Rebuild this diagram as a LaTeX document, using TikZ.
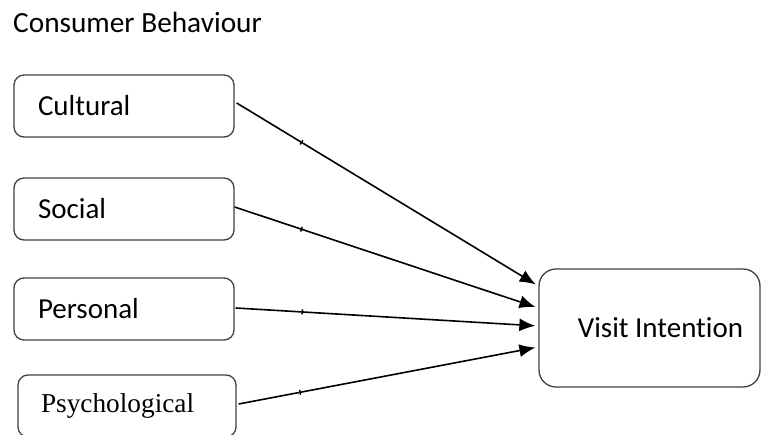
\documentclass[tikz,border=0pt]{standalone}
\usepackage{fontspec}
\setmainfont[Ligatures=NoCommon]{Carlito}
\newfontfamily\tnr{Liberation Serif}
\usetikzlibrary{arrows.meta}
\tikzset{
  factor/.style={draw=black!75, line width=1.3pt, rounded corners=10pt,
    minimum height=62pt, text width=172pt, inner xsep=24pt, inner ysep=0pt,
    align=left, font=\fontsize{29}{33}\selectfont},
  target/.style={draw=black!75, line width=1.3pt, rounded corners=17pt,
    minimum width=221pt, minimum height=118pt, inner sep=0pt,
    font=\fontsize{29}{33}\selectfont},
  conn/.style={draw=black, line width=1.6pt, shorten >=3pt,
    -{Latex[length=16pt,width=13pt]}},
  tickmark/.style={sloped, fill=black, inner sep=0pt, minimum width=1.4pt, minimum height=5pt},
  title/.style={anchor=base west, inner sep=0pt, font=\fontsize{29.3}{33}\selectfont}
}
\begin{document}
\begin{tikzpicture}[x=1pt,y=-1pt]
\useasboundingbox (0,0) rectangle (761,435);
\clip (0,0) rectangle (761,435);
\node[title] (ttl) at (13,33) {Consumer Behaviour};
\node[factor] (cult) at (124,106) {Cultural};
\node[factor] (soc) at (124,209) {Social};
\node[factor] (pers) at (124,309) {Personal};
\node[factor, font=\tnr\fontsize{27.3}{31}\selectfont, inner xsep=23pt] (psy) at (127,406) {Psychological};
\node[target] (vi) at (649.5,328) {\hspace*{22pt}Visit Intention};
\draw[conn] ([xshift=2pt,yshift=3pt]cult.east) -- node[tickmark, pos=0.215]{} ([yshift=42pt]vi.west);
\draw[conn] ([yshift=2pt]soc.east) -- node[tickmark, pos=0.22]{} ([yshift=20pt]vi.west);
\draw[conn] ([xshift=1pt,yshift=1pt]pers.east) -- node[tickmark, pos=0.22]{} ([yshift=2pt]vi.west);
\draw[conn] ([xshift=2pt,yshift=2pt]psy.east) -- node[tickmark, pos=0.205]{} ([yshift=-19pt]vi.west);
\end{tikzpicture}
\end{document}
